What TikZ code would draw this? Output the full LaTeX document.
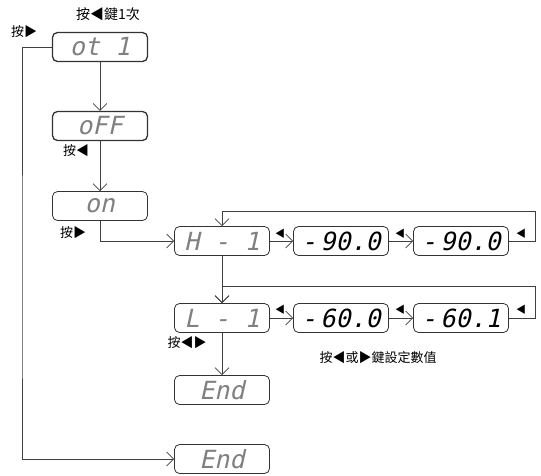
\documentclass[tikz,border=0pt]{standalone}
\usepackage{fontspec}
\setmainfont{Noto Sans CJK TC}
\newfontfamily\segfont[FakeSlant=0.22]{DejaVu Sans Mono}
\usetikzlibrary{arrows.meta}
\begin{document}
\begin{tikzpicture}[x=1pt,y=-1pt,
    disp/.style={draw=black!80, rounded corners=5pt, minimum width=95pt,
        minimum height=29pt, inner sep=0pt, line width=0.8pt,
        font=\segfont\fontsize{25}{25}\selectfont},
    status/.style={disp, text=black!50},
    heavy/.style={line width=1.3pt},
    link/.style={draw=black!75, line width=0.7pt,
        -{Straight Barb[length=7pt,width=14pt]}},
    note/.style={font=\fontsize{13}{15}\selectfont},
    keymark/.style={font=\fontsize{10}{10}\selectfont}]

    \useasboundingbox (0,0) rectangle (541,475);

    % displays
    \node[status,heavy] (ot) at (100,47) {ot 1};
    \node[status,heavy] (off) at (100,126) {oFF};
    \node[status] (on) at (100,206) {on};
    \node[status] (hi) at (222,241) {H - 1};
    \node[disp] (hia) at (341,241) {-\,90.0};
    \node[disp] (hib) at (461,241) {-\,90.0};
    \node[status] (lo) at (222,318) {L - 1};
    \node[disp] (loa) at (341,318) {-\,60.0};
    \node[disp] (lob) at (461,318) {-\,60.1};
    \node[status] (endl) at (222,390) {End};
    \node[status] (endx) at (222,459) {End};

    \coordinate (hiloop) at (535,211);
    \coordinate (loloop) at (535,286);
    \coordinate (back) at (22,300);

    % connectors
    \draw[link] (ot) -- (off);
    \draw[link] (off) -- (on);
    \draw[link] (on.south) |- (hi.west);
    \draw[link] (hi) -- (hia);
    \draw[link] (hia) -- (hib);
    \draw[link] (hib.east) -| (hiloop) -| (hi.north);
    \draw[link] (hi) -- (lo);
    \draw[link] (loa) -- (lob);
    \draw[link] (lo) -- (loa);
    \draw[link] (lob.east) -| (loloop) -| (lo.north);
    \draw[link] (lo) -- (endl);
    \draw[link] (ot.west) -| (back) |- (endx.west);

    % key marks
    \node[keymark] (kh1) at (280,234) {◀};
    \node[keymark] (kh2) at (400,234) {◀};
    \node[keymark] (kh3) at (521,234) {◀};
    \node[keymark] (kl1) at (280,310) {◀};
    \node[keymark] (kl2) at (400,310) {◀};
    \node[keymark] (kl3) at (521,310) {◀};

    % labels
    \node[note, font=\fontsize{14}{16}\selectfont] (once) at (108,14) {按◀鍵1次};
    \node[note] (pressr) at (24,32) {按▶};
    \node[note] (pressl) at (76,151) {按◀};
    \node[note] (pressn) at (73,233) {按▶};
    \node[note] (pressb) at (187,343) {按◀▶};
    \node[note] (setval) at (378,358) {按◀或▶鍵設定數值};
\end{tikzpicture}
\end{document}
